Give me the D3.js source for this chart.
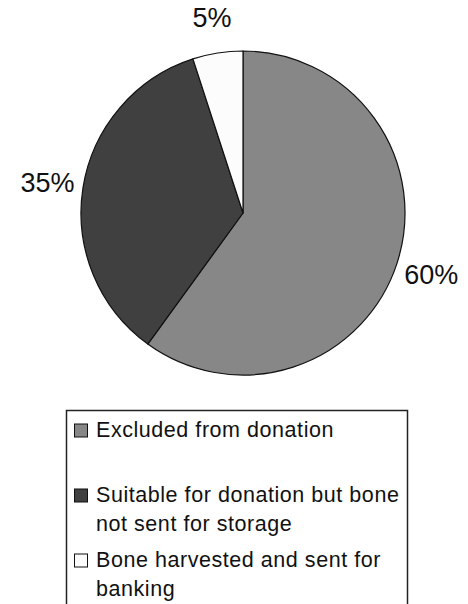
<!DOCTYPE html>
<html>
<head>
<meta charset="utf-8">
<script src="https://cdn.jsdelivr.net/npm/d3@7"></script>
<style>
  html, body { margin: 0; padding: 0; background: #fff; }
  svg { display: block; }
</style>
</head>
<body>
<svg id="chart" width="468" height="604"></svg>
<script>
const categories = ["Excluded from donation", "Suitable for donation but bone not sent for storage", "Bone harvested and sent for banking"];
const legendLines = [["Excluded from donation"], ["Suitable for donation but bone", "not sent for storage"], ["Bone harvested and sent for", "banking"]];
const values = [60, 35, 5];
const labels = ["60%", "35%", "5%"];
const colors = ["#878787", "#404040", "#fcfcfc"];

const svg = d3.select("#chart");
const cx = 243, cy = 213, r = 162;

const pie = d3.pie().sort(null).value(d => d)(values);
const arc = d3.arc().innerRadius(0).outerRadius(r);
const labelArc = d3.arc().innerRadius(198).outerRadius(198);

const g = svg.append("g").attr("transform", `translate(${cx},${cy})`);
g.selectAll("path").data(pie).join("path")
  .attr("d", arc)
  .attr("fill", (d, i) => colors[i])
  .attr("stroke", "#111")
  .attr("stroke-width", 1.2)
  .attr("stroke-linejoin", "round");

g.selectAll("text").data(pie).join("text")
  .attr("transform", d => `translate(${labelArc.centroid(d)})`)
  .attr("text-anchor", "middle")
  .attr("dy", "0.36em")
  .attr("font-family", "Liberation Sans, Arial, sans-serif")
  .attr("font-size", 27)
  .attr("fill", "#111")
  .text((d, i) => labels[i]);

// Legend
const lx = 66, ly = 410, lw = 341;
svg.append("rect")
  .attr("x", lx + 0.5).attr("y", ly + 0.5)
  .attr("width", lw).attr("height", 220)
  .attr("fill", "#fff").attr("stroke", "#222").attr("stroke-width", 1.5);

const itemBase = [436.5, 501.5, 566.5];
const lineH = 29;
const items = svg.selectAll("g.item").data(categories).join("g").attr("class", "item");
items.append("rect")
  .attr("x", 74.5)
  .attr("y", (d, i) => itemBase[i] - 12.5)
  .attr("width", 13).attr("height", 13)
  .attr("fill", (d, i) => colors[i])
  .attr("stroke", "#111").attr("stroke-width", 1);
items.each(function(d, i) {
  const t = d3.select(this).append("text")
    .attr("font-family", "Liberation Sans, Arial, sans-serif")
    .attr("font-size", 21.5)
    .attr("letter-spacing", 0.55)
    .attr("fill", "#111");
  legendLines[i].forEach((line, j) => {
    t.append("tspan").attr("x", 96).attr("y", itemBase[i] + j * lineH).text(line);
  });
});
</script>
</body>
</html>
